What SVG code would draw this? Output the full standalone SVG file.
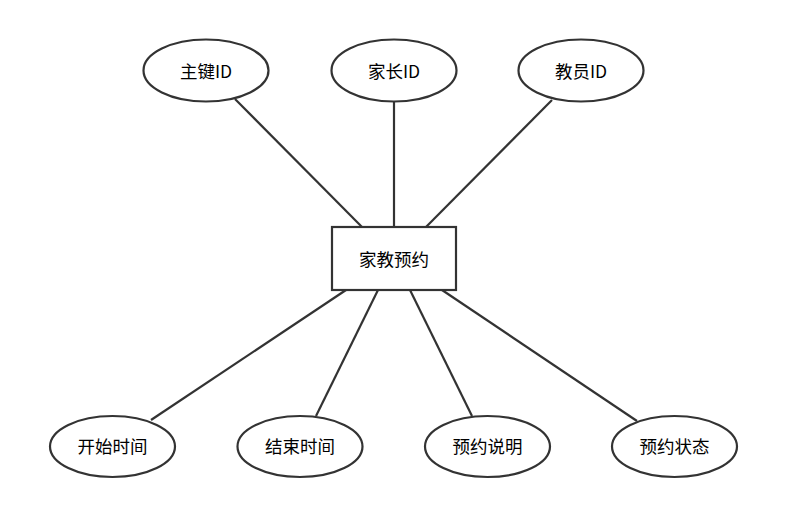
<svg xmlns="http://www.w3.org/2000/svg" width="789" height="515" viewBox="0 0 789 515">
<style>
.shape{fill:#fff;stroke:#333;stroke-width:2.2}
.edge{stroke:#333;stroke-width:2.2;fill:none}
text{font-family:"Noto Sans CJK SC","Microsoft YaHei",sans-serif;font-size:17.5px;fill:#000;text-anchor:middle;dominant-baseline:central}
</style>
<rect width="789" height="515" fill="#fff"/>
<g id="connectors">
<line class="edge" x1="235" y1="99" x2="362" y2="227"/>
<line class="edge" x1="394" y1="101" x2="394" y2="227"/>
<line class="edge" x1="552" y1="100" x2="426" y2="227"/>
<line class="edge" x1="346" y1="290" x2="151" y2="420"/>
<line class="edge" x1="378" y1="290" x2="316" y2="416"/>
<line class="edge" x1="410" y1="290" x2="472" y2="416"/>
<line class="edge" x1="442" y1="290" x2="637" y2="421"/>
</g>
<g id="main"><rect class="shape" x="332" y="227" width="124" height="63"/><text x="394" y="258">家教预约</text></g>
<g id="a1"><ellipse class="shape" cx="206" cy="70.5" rx="62.5" ry="31"/><text x="206" y="70">主键ID</text></g>
<g id="a2"><ellipse class="shape" cx="394" cy="70.5" rx="62.5" ry="31"/><text x="394" y="70">家长ID</text></g>
<g id="a3"><ellipse class="shape" cx="581" cy="70.5" rx="62.5" ry="31"/><text x="581" y="70">教员ID</text></g>
<g id="b1"><ellipse class="shape" cx="112.5" cy="446.5" rx="62.5" ry="30.5"/><text x="112.5" y="445">开始时间</text></g>
<g id="b2"><ellipse class="shape" cx="300" cy="446.5" rx="62.5" ry="30.5"/><text x="300" y="445">结束时间</text></g>
<g id="b3"><ellipse class="shape" cx="487.5" cy="446.5" rx="62.5" ry="30.5"/><text x="487.5" y="445">预约说明</text></g>
<g id="b4"><ellipse class="shape" cx="674.5" cy="446.5" rx="62.5" ry="30.5"/><text x="674.5" y="445">预约状态</text></g>
</svg>
